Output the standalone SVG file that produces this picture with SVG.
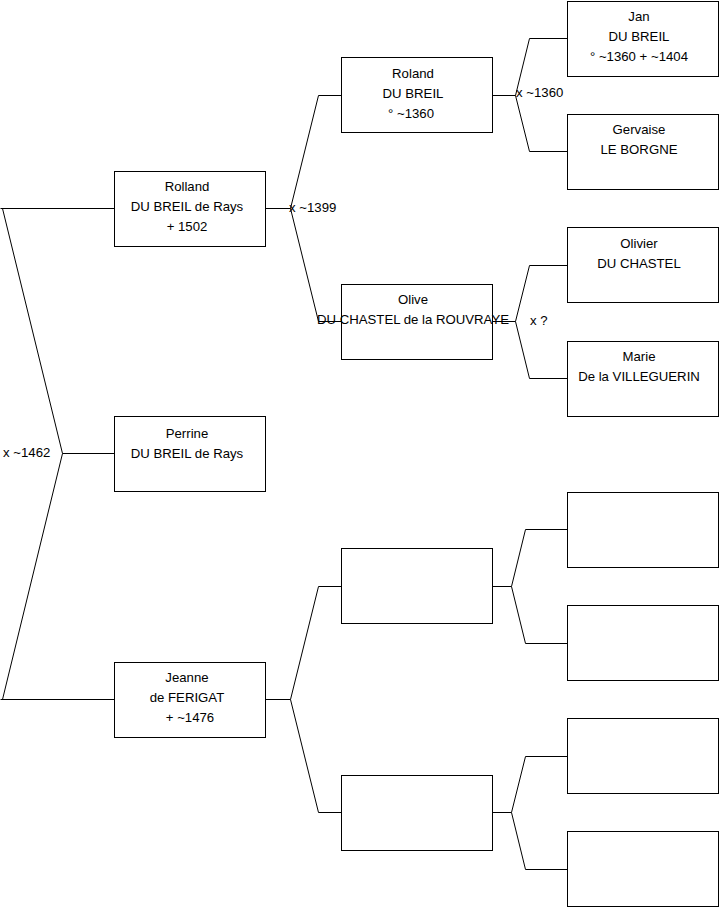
<svg xmlns="http://www.w3.org/2000/svg" width="719" height="908" viewBox="0 0 719 908">
<style>
.box{fill:#fff;stroke:#000;stroke-width:1}
.c{fill:none;stroke:#000;stroke-width:1}
text{font-family:"Liberation Sans",Arial,sans-serif;font-size:13.2px;fill:#000}
.m{text-anchor:middle}
</style>
<rect width="719" height="908" fill="#fff"/>
<g id="connectors">
<path class="c" d="M0.5,208.5H114M2.5,208.5L62.5,453.5L2.5,699.5M0.5,699.5H114M62.5,453.5H114"/>
<path class="c" d="M265,208.5H290.5M290.5,208.5L318.5,95.5H341M290.5,208.5L318.5,321.5H341"/>
<path class="c" d="M492,95.5H515.5M515.5,95.5L529.5,38.5H567M515.5,95.5L529.5,151.5H567"/>
<path class="c" d="M492,321.5H515.5M515.5,321.5L529.5,265.5H567M515.5,321.5L529.5,378.5H567"/>
<path class="c" d="M265,699.5H290.5M290.5,699.5L318.5,586.5H341M290.5,699.5L318.5,812.5H341"/>
<path class="c" d="M492,586.5H511.5M511.5,586.5L525.5,529.5H567M511.5,586.5L525.5,643.5H567"/>
<path class="c" d="M492,812.5H511.5M511.5,812.5L525.5,756.5H567M511.5,812.5L525.5,869.5H567"/>
<text x="3" y="457">x ~1462</text>
<text x="289" y="212">x ~1399</text>
<text x="516" y="97">x ~1360</text>
<text x="530" y="325">x ?</text>
</g>
<g id="rolland"><rect class="box" x="114.5" y="171.5" width="151" height="75"/>
<text class="m" x="187" y="191">Rolland</text><text class="m" x="187" y="211">DU BREIL de Rays</text><text class="m" x="187" y="231">+ 1502</text></g>
<g id="perrine"><rect class="box" x="114.5" y="416.5" width="151" height="75"/>
<text class="m" x="187" y="438">Perrine</text><text class="m" x="187" y="458">DU BREIL de Rays</text></g>
<g id="jeanne"><rect class="box" x="114.5" y="662.5" width="151" height="75"/>
<text class="m" x="187" y="682">Jeanne</text><text class="m" x="187" y="702">de FERIGAT</text><text class="m" x="190" y="722">+ ~1476</text></g>
<g id="roland"><rect class="box" x="341.5" y="57.5" width="151" height="75"/>
<text class="m" x="413" y="78">Roland</text><text class="m" x="413" y="98">DU BREIL</text><text class="m" x="411" y="118">° ~1360</text></g>
<g id="olive"><rect class="box" x="341.5" y="284.5" width="151" height="75"/>
<text class="m" x="413" y="304">Olive</text><text class="m" x="413" y="324">DU CHASTEL de la ROUVRAYE</text></g>
<g id="p3"><rect class="box" x="341.5" y="548.5" width="151" height="75"/></g>
<g id="p4"><rect class="box" x="341.5" y="775.5" width="151" height="75"/></g>
<g id="jan"><rect class="box" x="567.5" y="1.5" width="151" height="75"/>
<text class="m" x="639" y="21">Jan</text><text class="m" x="639" y="41">DU BREIL</text><text class="m" x="639" y="61">° ~1360 + ~1404</text></g>
<g id="gervaise"><rect class="box" x="567.5" y="114.5" width="151" height="75"/>
<text class="m" x="639" y="134">Gervaise</text><text class="m" x="639" y="154">LE BORGNE</text></g>
<g id="olivier"><rect class="box" x="567.5" y="227.5" width="151" height="75"/>
<text class="m" x="639" y="248">Olivier</text><text class="m" x="639" y="268">DU CHASTEL</text></g>
<g id="marie"><rect class="box" x="567.5" y="341.5" width="151" height="75"/>
<text class="m" x="639" y="361">Marie</text><text class="m" x="639" y="381">De la VILLEGUERIN</text></g>
<g id="g5"><rect class="box" x="567.5" y="492.5" width="151" height="75"/></g>
<g id="g6"><rect class="box" x="567.5" y="605.5" width="151" height="75"/></g>
<g id="g7"><rect class="box" x="567.5" y="718.5" width="151" height="75"/></g>
<g id="g8"><rect class="box" x="567.5" y="831.5" width="151" height="75"/></g>
</svg>
